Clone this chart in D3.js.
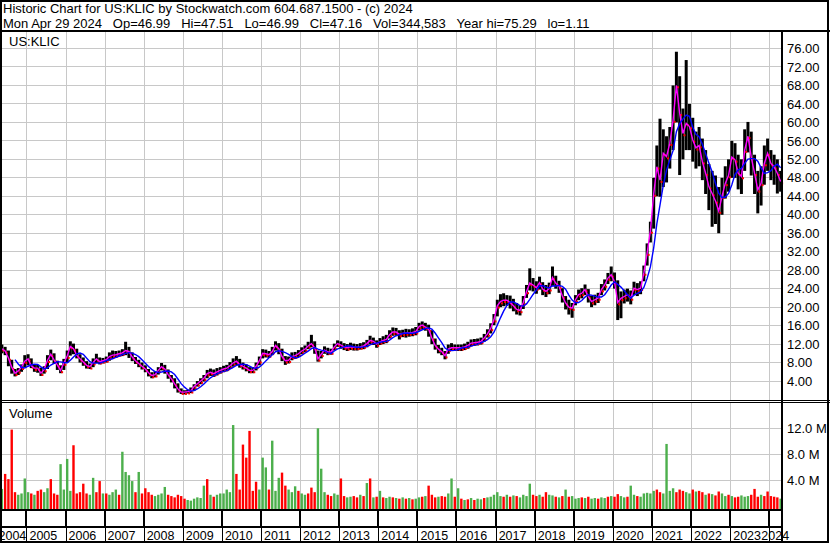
<!DOCTYPE html>
<html>
<head>
<meta charset="utf-8">
<script src="https://cdn.jsdelivr.net/npm/d3@7"></script>
<style>
  body { margin: 0; background: #fff; }
  svg { display: block; font-family: "Liberation Sans", Arial, sans-serif; font-size: 13px; }
</style>
</head>
<body>
<div id="viz"></div>
<script>

// monthly bars, May 2004 .. Apr 2024
var firstMonth = new Date(2004, 4, 1);

var close = [
  11.0,10.5,9.0,7.0,5.7,6.2,7.0,8.3,                      // 2004
  8.8,7.3,6.8,6.8,5.7,6.5,8.5,9.8,8.6,7.5,6.3,7.9,        // 2005
  9.4,11.5,11.0,9.6,8.8,8.1,7.4,7.1,8.0,8.8,8.2,8.4,      // 2006
  8.6,9.3,9.6,9.7,9.9,10.1,10.6,10.4,9.2,8.4,7.8,7.2,     // 2007
  6.6,5.8,5.2,5.4,6.3,7.1,6.6,5.4,4.5,3.4,2.3,1.6,        // 2008
  1.6,1.7,1.9,2.8,3.4,4.0,4.6,5.6,5.9,5.6,6.0,6.3,        // 2009
  6.6,6.8,7.3,7.9,8.3,7.6,7.2,6.8,6.3,6.3,7.2,8.4,        // 2010
  10.0,9.9,9.7,10.4,11.7,11.0,9.3,8.4,8.5,9.3,9.5,9.9,    // 2011
  10.5,10.9,11.6,12.1,11.2,8.8,9.8,10.7,10.3,10.3,11.4,12.1, // 2012
  11.8,11.4,11.2,11.4,11.3,11.3,11.4,11.6,12.1,12.8,12.6,12.0, // 2013
  12.5,12.8,13.0,14.0,14.6,14.6,14.1,14.3,14.4,14.4,14.5,14.7, // 2014
  15.8,16.1,15.7,15.2,13.3,11.7,10.9,10.4,9.5,10.9,11.2,11.2,  // 2015
  11.2,11.2,11.4,11.7,12.2,12.3,12.4,12.6,13.3,14.2,15.4,17.3, // 2016
  20.3,21.2,21.5,21.5,21.0,20.3,19.5,19.3,21.0,23.4,25.2,24.8, // 2017
  24.2,25.3,23.9,23.4,24.0,26.4,25.2,24.5,22.4,20.9,20.0,19.8, // 2018
  21.6,22.7,23.0,23.8,22.3,21.2,21.6,22.0,23.8,24.8,26.3,27.0, // 2019
  25.5,21.0,21.9,22.3,22.7,22.0,24.1,23.8,24.1,27.4,31.7,36.5, // 2020
  44.5,50.4,47.5,53.3,52.6,55.5,60.5,68.0,62.0,57.6,59.8,59.1, // 2021
  56.2,54.5,55.0,51.5,49.0,46.1,44.6,43.0,40.8,44.0,46.8,48.5, // 2022
  52.5,51.9,49.0,48.3,54.0,57.0,52.5,49.0,45.4,46.8,51.1,53.3, // 2023
  51.1,50.4,49.0,47.2                                          // 2024
];

var hi = [
  11.9,11.4,10.6,8.6,6.6,6.8,7.6,9.6,
  9.8,8.9,7.6,7.5,6.9,7.2,9.6,10.8,10.0,8.4,7.4,8.8,
  10.6,12.6,12.1,11.0,9.8,9.1,8.3,7.8,8.9,9.9,9.1,9.0,
  9.3,10.2,10.6,10.5,10.6,10.9,12.5,11.4,10.2,9.2,8.6,8.0,
  7.4,6.6,5.9,6.1,7.0,7.9,7.5,6.5,5.3,4.6,3.5,2.4,
  2.0,2.1,2.6,3.3,4.0,4.6,5.3,6.4,6.7,6.5,6.8,7.0,
  7.3,7.5,8.1,8.9,9.4,8.8,8.0,7.6,7.0,7.0,8.0,9.3,
  10.9,10.8,10.5,11.4,12.6,12.2,11.0,9.4,9.3,10.2,10.3,10.7,
  11.3,11.7,12.5,14.0,12.6,10.6,10.5,11.5,11.2,11.0,12.1,12.8,
  12.6,12.2,12.0,12.3,12.1,12.0,12.2,12.4,12.9,13.8,13.4,12.8,
  13.3,13.7,14.0,15.0,15.6,15.5,15.0,15.1,15.3,15.2,15.4,15.7,
  16.6,16.9,16.6,16.2,15.0,13.2,11.8,11.2,10.5,11.9,12.2,11.9,
  11.9,11.9,12.1,12.5,13.0,13.1,13.2,13.4,14.2,15.2,16.5,18.5,
  21.6,22.8,23.0,22.6,22.5,21.8,20.9,20.4,22.4,24.8,28.4,26.3,
  25.6,26.6,25.4,24.8,25.3,28.8,26.8,25.7,24.1,22.4,21.6,20.9,
  22.6,23.8,24.1,24.9,23.9,22.5,22.7,23.1,25.0,26.0,27.4,28.8,
  27.5,25.8,23.4,23.8,24.0,23.6,25.5,25.2,25.6,29.0,33.8,38.5,
  48.0,55.0,60.8,58.5,57.0,59.0,68.0,75.3,70.0,63.0,73.5,64.0,
  61.0,58.0,59.0,56.5,54.0,51.0,49.5,48.5,46.0,48.0,50.5,52.0,
  56.0,55.5,53.0,52.0,58.5,60.1,58.0,53.0,49.5,50.5,55.0,56.5,
  54.0,53.0,52.0,49.5
];

var lo = [
  10.0,9.6,7.2,5.6,5.0,5.3,6.0,7.0,
  7.4,6.8,6.0,5.8,5.1,5.6,6.6,8.5,7.7,6.4,5.7,6.4,
  8.0,9.5,9.8,8.9,8.0,7.3,6.7,6.6,7.0,7.9,7.6,7.8,
  8.0,8.4,8.8,9.0,9.3,9.4,9.6,9.0,8.3,7.7,7.0,6.5,
  5.9,5.0,4.6,4.8,5.4,6.3,5.6,4.5,3.7,2.4,1.5,1.2,
  1.11,1.3,1.4,1.9,2.8,3.3,3.9,4.6,5.1,4.9,5.2,5.6,
  5.9,6.1,6.6,7.1,7.4,6.9,6.5,6.1,5.7,5.7,6.3,7.4,
  8.9,9.1,9.0,9.6,10.6,9.8,8.3,7.5,7.8,8.5,8.8,9.2,
  9.8,10.2,10.9,11.3,9.9,8.2,8.9,9.9,9.6,9.7,10.6,11.4,
  11.0,10.7,10.5,10.7,10.6,10.6,10.8,10.9,11.3,12.0,11.8,11.2,
  11.8,12.0,12.2,13.2,13.8,13.8,13.0,13.5,13.4,13.6,13.7,13.9,
  14.9,15.2,14.9,13.6,12.0,10.8,10.0,9.6,8.7,9.9,10.5,10.5,
  10.5,10.5,10.7,11.0,11.5,11.6,11.7,11.9,12.5,13.4,14.3,16.1,
  18.0,20.0,20.2,20.3,19.7,19.1,18.4,18.2,19.6,22.0,23.6,23.4,
  22.9,23.8,22.6,22.2,22.8,24.6,24.0,23.1,21.0,19.5,18.4,17.7,
  20.4,21.5,21.9,22.6,21.0,20.0,20.4,20.9,22.6,23.6,25.0,25.6,
  24.0,17.2,17.6,20.8,21.2,20.6,22.6,22.4,22.8,25.6,29.0,34.0,
  37.0,44.0,43.9,46.0,47.0,50.0,54.0,60.0,48.6,52.0,54.0,54.0,
  51.5,50.0,50.5,47.5,44.5,41.0,37.4,38.0,36.0,40.0,43.5,45.0,
  48.0,48.0,45.5,44.5,49.5,53.5,48.5,44.5,40.3,42.0,46.5,49.5,
  47.5,46.5,44.6,45.0
];

// volume in millions of shares
var vol = [
  2.7,5.0,4.2,11.8,2.2,1.8,2.0,4.3,
  2.2,2.0,1.8,2.4,2.6,2.2,2.8,4.2,2.0,1.8,6.5,2.6,
  7.3,2.4,9.4,2.0,2.2,3.5,2.0,1.8,4.4,2.2,3.9,2.0,
  2.0,1.8,2.2,2.6,1.8,8.4,5.3,4.8,3.9,2.2,5.3,2.0,
  2.8,2.2,1.8,1.6,1.8,2.0,3.0,1.8,1.6,1.4,1.8,1.6,
  1.2,1.0,0.9,1.2,1.4,1.3,3.2,4.2,1.8,1.5,1.8,2.0,
  2.0,2.6,2.2,12.5,5.0,2.6,9.5,7.5,11.6,2.4,3.8,2.6,
  7.5,6.0,2.6,10.1,2.4,4.4,5.2,3.2,2.6,2.2,3.1,2.4,
  2.0,1.8,2.0,2.9,2.2,12.0,5.8,2.2,1.8,1.6,2.0,1.8,
  4.3,1.6,1.4,1.5,1.6,1.4,1.8,1.6,3.6,4.3,1.4,1.5,
  2.4,1.4,1.3,1.5,1.4,1.3,1.2,1.4,1.2,1.3,1.1,1.2,
  1.4,1.5,1.6,3.2,1.8,1.4,1.5,1.6,1.5,2.0,4.3,1.5,
  2.8,1.2,1.0,1.1,1.3,1.0,1.2,1.1,1.3,1.4,1.5,1.8,
  2.2,1.6,1.5,1.8,1.5,1.7,1.6,1.4,1.8,1.6,3.5,1.8,
  1.6,1.8,1.5,2.2,1.8,1.7,1.5,1.4,1.6,2.6,1.5,1.6,
  1.2,1.3,1.4,1.3,1.5,1.2,1.3,1.2,1.4,1.3,1.5,1.6,
  1.5,1.9,1.6,1.4,1.5,3.2,1.8,1.6,1.5,2.0,2.1,2.0,
  2.4,2.6,2.2,2.0,9.6,2.4,2.8,2.2,2.6,2.4,2.2,2.0,
  2.6,2.3,2.4,2.2,1.8,2.0,1.9,1.7,2.3,2.0,1.6,1.8,
  1.6,1.4,1.5,1.7,1.5,1.6,1.8,2.7,1.5,1.8,1.6,2.3,
  1.6,1.5,1.4,1.2
];

// 1 = green (up) volume bar, 0 = red
var up = [
  1,0,0,0,0,1,1,1,
  1,0,1,0,0,1,1,0,0,0,1,1,
  1,1,0,0,0,0,0,1,1,0,0,1,
  0,1,1,1,0,1,1,1,1,0,1,0,
  0,0,0,1,1,1,1,0,0,0,0,0,
  0,1,1,1,1,1,1,0,1,0,1,1,
  1,1,1,1,0,0,0,0,0,0,0,1,
  1,1,0,1,1,1,0,0,1,1,1,0,
  1,1,0,0,0,1,1,1,0,0,1,1,
  0,0,1,1,0,0,1,0,1,0,1,0,
  1,0,1,1,0,1,0,1,0,1,0,1,
  1,0,1,0,0,0,1,0,0,1,1,0,
  1,0,1,0,1,0,1,1,0,1,1,1,
  1,1,0,1,0,1,0,1,1,1,1,0,
  0,1,0,0,1,1,0,1,0,1,0,1,
  1,1,0,1,0,1,1,0,1,1,0,1,
  0,0,1,1,0,1,1,0,1,1,1,1,
  1,0,0,1,1,1,1,0,0,0,1,1,
  0,1,0,0,1,0,1,0,0,1,1,0,
  1,0,0,1,1,1,0,0,0,1,0,0,
  0,0,0,1
];

var years = [2004,2005,2006,2007,2008,2009,2010,2011,2012,2013,2014,
             2015,2016,2017,2018,2019,2020,2021,2022,2023,2024];
var priceTicks = [4,8,12,16,20,24,28,32,36,40,44,48,52,56,60,64,68,72,76];
var volTicks = [4,8,12];

var gap = "\u00a0\u00a0\u00a0";
var headerLines = [
  "Historic Chart for US:KLIC by Stockwatch.com 604.687.1500 - (c) 2024",
  ["Mon Apr 29 2024", "Op=46.99", "Hi=47.51", "Lo=46.99", "Cl=47.16",
   "Vol=344,583", "Year hi=75.29", "lo=1.11"].join(gap)
];

var width = 830, height = 543,
    plotRight = 782,
    priceTop = 31, priceBottom = 400,
    volTop = 403, volBottom = 509;

var svg = d3.select("#viz").append("svg")
    .attr("width", width)
    .attr("height", height);

var x = d3.scaleTime()
    .domain([new Date(2004, 3, 29), new Date(2024, 3, 29)])
    .range([0, plotRight]);
var y = d3.scaleLinear().domain([0, 76]).range([399.5, 48.5]);
var yv = d3.scaleLinear().domain([0, 12]).range([506.5, 428.3]);

var data = close.map(function(c, i){
    var m0 = d3.timeMonth.offset(firstMonth, i),
        m1 = d3.timeMonth.offset(firstMonth, i + 1);
    return { xc: (x(m0) + x(m1)) / 2, cl: c, hi: hi[i], lo: lo[i], vol: vol[i], up: up[i] };
});

// 30 week style average of the closes
data.forEach(function(d, i){
    d.ma = d3.mean(close.slice(Math.max(0, i - 4), i + 1));
});

var yearStarts = years.slice(1).map(function(yr){ return new Date(yr, 0, 1); });

// grid
var grid = svg.append("g")
    .attr("stroke", "#c8c8c8")
    .attr("stroke-width", 1)
    .attr("shape-rendering", "crispEdges");

grid.selectAll(".vp").data(yearStarts).enter().append("line")
    .attr("x1", function(d){ return Math.round(x(d)) + 0.5; })
    .attr("x2", function(d){ return Math.round(x(d)) + 0.5; })
    .attr("y1", priceTop).attr("y2", priceBottom);
grid.selectAll(".vv").data(yearStarts).enter().append("line")
    .attr("x1", function(d){ return Math.round(x(d)) + 0.5; })
    .attr("x2", function(d){ return Math.round(x(d)) + 0.5; })
    .attr("y1", volTop).attr("y2", volBottom);
grid.selectAll(".hp").data(priceTicks).enter().append("line")
    .attr("x1", 0).attr("x2", plotRight)
    .attr("y1", function(d){ return y(d); })
    .attr("y2", function(d){ return y(d); });
grid.selectAll(".hv").data(volTicks).enter().append("line")
    .attr("x1", 0).attr("x2", plotRight)
    .attr("y1", function(d){ return yv(d); })
    .attr("y2", function(d){ return yv(d); });

// price bars
svg.append("g").selectAll("rect").data(data).enter().append("rect")
    .attr("x", function(d){ return d.xc - 1.5; })
    .attr("width", 3)
    .attr("y", function(d){ return y(d.hi); })
    .attr("height", function(d){ return y(d.lo) - y(d.hi); })
    .attr("fill", "#000");

// close ticks
svg.append("g").selectAll("rect").data(data).enter().append("rect")
    .attr("x", function(d){ return d.xc + 0.5; })
    .attr("width", 2)
    .attr("y", function(d){ return y(d.cl) + 0.8; })
    .attr("height", 2)
    .attr("fill", "#ff0000");

var line = d3.line();

svg.append("path")
    .attr("d", line(data.map(function(d){ return [d.xc, y(d.cl)]; })))
    .attr("fill", "none")
    .attr("stroke", "#ff00ff")
    .attr("stroke-width", 1.4);

svg.append("path")
    .attr("d", line(data.slice(4).map(function(d){ return [d.xc, y(d.ma)]; })))
    .attr("fill", "none")
    .attr("stroke", "#0000ff")
    .attr("stroke-width", 1.4);

// volume bars
svg.append("g").selectAll("rect").data(data).enter().append("rect")
    .attr("x", function(d){ return d.xc - 1.2; })
    .attr("width", 2.4)
    .attr("y", function(d){ return yv(d.vol); })
    .attr("height", function(d){ return volBottom - yv(d.vol); })
    .attr("fill", function(d){ return d.up ? "#4caf4c" : "#ff0000"; });

// frame lines
var frame = svg.append("g").attr("stroke", "#000").attr("shape-rendering", "crispEdges");
frame.append("rect")
    .attr("x", 1).attr("y", 1).attr("width", 827).attr("height", 540.5)
    .attr("fill", "none").attr("stroke-width", 2);
frame.append("line").attr("x1", 0).attr("x2", width).attr("y1", 31).attr("y2", 31).attr("stroke-width", 2);
frame.append("line").attr("x1", 0).attr("x2", width).attr("y1", 400.5).attr("y2", 400.5);
frame.append("line").attr("x1", 0).attr("x2", width).attr("y1", 402.5).attr("y2", 402.5);
frame.append("line").attr("x1", 0).attr("x2", plotRight).attr("y1", 510).attr("y2", 510).attr("stroke-width", 2);
frame.append("line").attr("x1", 0).attr("x2", plotRight).attr("y1", 526.5).attr("y2", 526.5).attr("stroke-width", 2);
frame.append("line").attr("x1", plotRight).attr("x2", plotRight).attr("y1", 31).attr("y2", 542).attr("stroke-width", 2);
frame.selectAll(".tk").data(yearStarts).enter().append("line")
    .attr("x1", function(d){ return Math.round(x(d)); })
    .attr("x2", function(d){ return Math.round(x(d)); })
    .attr("y1", 510).attr("y2", 527).attr("stroke-width", 2);
frame.selectAll(".tl").data(yearStarts).enter().append("line")
    .attr("x1", function(d){ return Math.round(x(d)) + 0.5; })
    .attr("x2", function(d){ return Math.round(x(d)) + 0.5; })
    .attr("y1", 527).attr("y2", 541);

// right axes
var priceAxis = svg.append("g")
    .attr("transform", "translate(" + plotRight + ",0)")
    .call(d3.axisRight(y).tickValues(priceTicks).tickFormat(d3.format(".2f")).tickSize(0).tickPadding(5));
var volAxis = svg.append("g")
    .attr("transform", "translate(" + plotRight + ",0)")
    .call(d3.axisRight(yv).tickValues(volTicks).tickFormat(function(d){ return d.toFixed(1) + " M"; }).tickSize(0).tickPadding(5));
[priceAxis, volAxis].forEach(function(g){
    g.select(".domain").remove();
    g.attr("font-family", null).attr("font-size", null);
    g.selectAll("text").attr("fill", "#000");
});

// year labels, kept from running into each other
var prevRight = -Infinity;
svg.append("g").selectAll("text").data(years).enter().append("text")
    .attr("y", 539.5)
    .style("font-size", "12.5px")
    .text(function(d){ return d; })
    .attr("x", function(d){
        var w = this.getComputedTextLength(),
            left = x(new Date(d, 0, 1)) + 3;
        left = Math.max(left, -1.5);
        left = Math.min(left, 786 - w);
        left = Math.max(left, prevRight + 0.3);
        prevRight = left + w;
        return left;
    });

// texts
svg.append("g").selectAll("text").data(headerLines).enter().append("text")
    .attr("x", 3)
    .attr("y", function(d, i){ return 13 + i * 15; })
    .text(function(d){ return d; });

svg.append("text").attr("x", 9).attr("y", 46).text("US:KLIC");
svg.append("text").attr("x", 9).attr("y", 418).text("Volume");

</script>
</body>
</html>
